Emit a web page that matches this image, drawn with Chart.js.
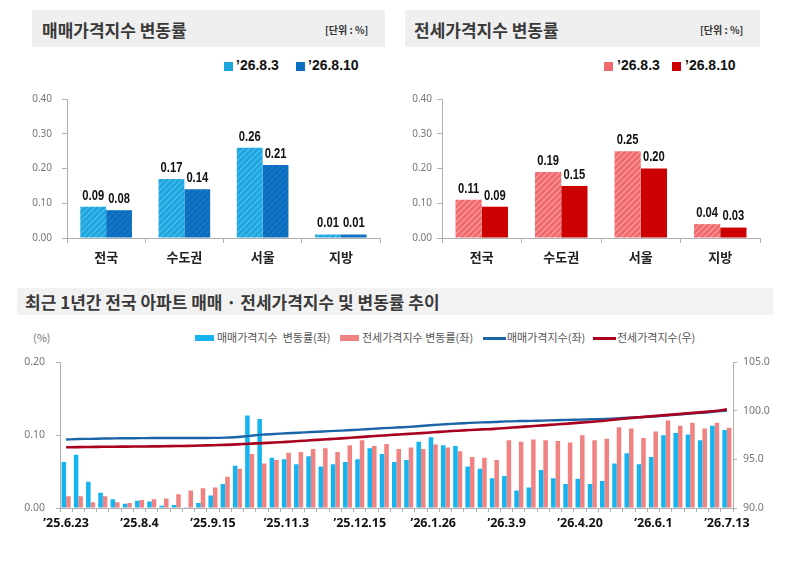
<!DOCTYPE html>
<html>
<head>
<meta charset="utf-8">
<script src="https://cdn.jsdelivr.net/npm/chart.js@4.4.1/dist/chart.umd.min.js"></script>
<style>
  body { margin: 0; width: 798px; height: 561px; background: #fff; position: relative; overflow: hidden;
         font-family: 'Noto Sans CJK KR', 'Noto Sans', sans-serif; }
  .band { position: absolute; background: #efefef; }
  .ttl { position: absolute; font-weight: bold; font-size: 17px; color: #3a3a3a; white-space: nowrap; }
  .unit { position: absolute; font-weight: bold; font-size: 10px; color: #333; white-space: nowrap; }
  .lg { position: absolute; font-weight: bold; font-size: 14px; color: #111; white-space: nowrap;
        font-family: 'Liberation Sans', sans-serif; }
  .sq { position: absolute; width: 9px; height: 9px; }
  .lg2 { position: absolute; font-size: 11px; color: #555; white-space: nowrap; }
  .sw { position: absolute; }
  canvas { position: absolute; }
</style>
</head>
<body>

<div class="band" style="left:32px;top:10px;width:353px;height:37px"></div>
<div class="ttl" style="left:42px;top:17px">매매가격지수 변동률</div>
<div class="unit" style="left:325px;top:22px">[단위 : %]</div>

<div class="band" style="left:405px;top:10px;width:355px;height:37px"></div>
<div class="ttl" style="left:414px;top:17px">전세가격지수 변동률</div>
<div class="unit" style="left:700px;top:22px">[단위 : %]</div>

<div class="sq" style="left:224px;top:62px;background:#1ca6e0"></div>
<div class="lg" style="left:236px;top:57px">’26.8.3</div>
<div class="sq" style="left:296px;top:62px;background:#0b6dbf"></div>
<div class="lg" style="left:308px;top:57px">’26.8.10</div>

<div class="sq" style="left:604px;top:62px;background:#f0696c"></div>
<div class="lg" style="left:617px;top:57px">’26.8.3</div>
<div class="sq" style="left:672px;top:62px;background:#cc0000"></div>
<div class="lg" style="left:685px;top:57px">’26.8.10</div>

<div class="band" style="left:17px;top:288px;width:756px;height:27px;background:#f2f2f2"></div>
<div class="ttl" style="left:25px;top:289px">최근 1년간 전국 아파트 매매 · 전세가격지수 및 변동률 추이</div>

<div class="lg2" style="left:33px;top:329px;color:#777">(%)</div>
<div class="sw" style="left:195px;top:335px;width:19px;height:6px;background:#16b4ee"></div>
<div class="lg2" style="left:217px;top:329px">매매가격지수&nbsp; 변동률(좌)</div>
<div class="sw" style="left:340px;top:335px;width:19px;height:6px;background:#f08282"></div>
<div class="lg2" style="left:362px;top:329px">전세가격지수 변동률(좌)</div>
<div class="sw" style="left:483px;top:337px;width:23px;height:2.5px;background:#1c64a8"></div>
<div class="lg2" style="left:507px;top:329px">매매가격지수(좌)</div>
<div class="sw" style="left:593px;top:337px;width:23px;height:2.5px;background:#a8001e"></div>
<div class="lg2" style="left:617px;top:329px">전세가격지수(우)</div>

<canvas id="saleChart" width="400" height="195" style="left:0;top:80px;width:400px;height:195px"></canvas>
<canvas id="rentChart" width="398" height="195" style="left:400px;top:80px;width:398px;height:195px"></canvas>
<canvas id="trendChart" width="798" height="200" style="left:0;top:345px;width:798px;height:200px"></canvas>

<script>
// top charts
const regions = ["전국", "수도권", "서울", "지방"];
const saleWeek1 = [0.09, 0.17, 0.26, 0.01];   // '26.8.3
const saleWeek2 = [0.08, 0.14, 0.21, 0.01];   // '26.8.10
const rentWeek1 = [0.11, 0.19, 0.25, 0.04];
const rentWeek2 = [0.09, 0.15, 0.20, 0.03];
const weekNames = ["’26.8.3", "’26.8.10"];

// bottom chart (weekly, Chuseok week 10.6 skipped)
const weeks = [
  "’25.6.23", "’25.6.30", "’25.7.7", "’25.7.14", "’25.7.21", "’25.7.28",
  "’25.8.4", "’25.8.11", "’25.8.18", "’25.8.25", "’25.9.1", "’25.9.8",
  "’25.9.15", "’25.9.22", "’25.9.29", "’25.10.13", "’25.10.20", "’25.10.27",
  "’25.11.3", "’25.11.10", "’25.11.17", "’25.11.24", "’25.12.1", "’25.12.8",
  "’25.12.15", "’25.12.22", "’25.12.29", "’26.1.5", "’26.1.12", "’26.1.19",
  "’26.1.26", "’26.2.2", "’26.2.9", "’26.2.16", "’26.2.23", "’26.3.2",
  "’26.3.9", "’26.3.16", "’26.3.23", "’26.3.30", "’26.4.6", "’26.4.13",
  "’26.4.20", "’26.4.27", "’26.5.4", "’26.5.11", "’26.5.18", "’26.5.25",
  "’26.6.1", "’26.6.8", "’26.6.15", "’26.6.22", "’26.6.29", "’26.7.6",
  "’26.7.13"
];
const tickLabels = ["’25.6.23", "’25.8.4", "’25.9.15", "’25.11.3", "’25.12.15",
  "’26.1.26", "’26.3.9", "’26.4.20", "’26.6.1", "’26.7.13"];
const saleRate = [
  0.063, 0.073, 0.036, 0.021, 0.012, 0.006, 0.010, 0.009, 0.003, 0.004, 0.001,
  0.007, 0.017, 0.033, 0.058, 0.127, 0.122, 0.069, 0.067, 0.060, 0.071, 0.057,
  0.060, 0.063, 0.067, 0.082, 0.074, 0.063, 0.066, 0.091, 0.097, 0.086, 0.085,
  0.057, 0.054, 0.041, 0.044, 0.024, 0.028, 0.052, 0.041, 0.033, 0.040, 0.033,
  0.037, 0.061, 0.075, 0.060, 0.070, 0.100, 0.103, 0.101, 0.093, 0.113, 0.107
];
const rentRate = [
  0.016, 0.016, 0.008, 0.016, 0.008, 0.007, 0.011, 0.012, 0.013, 0.019, 0.024,
  0.027, 0.028, 0.043, 0.054, 0.074, 0.061, 0.066, 0.076, 0.077, 0.081, 0.082,
  0.077, 0.086, 0.093, 0.085, 0.088, 0.081, 0.083, 0.081, 0.087, 0.083, 0.078,
  0.070, 0.069, 0.066, 0.093, 0.091, 0.094, 0.093, 0.092, 0.090, 0.100, 0.093,
  0.095, 0.111, 0.109, 0.096, 0.105, 0.120, 0.113, 0.117, 0.109, 0.117, 0.110
];
const saleIndex = [
  97.05, 97.10, 97.12, 97.15, 97.17, 97.18, 97.19, 97.20, 97.20, 97.20, 97.20,
  97.21, 97.22, 97.25, 97.31, 97.43, 97.55, 97.62, 97.69, 97.75, 97.82, 97.88,
  97.94, 98.00, 98.07, 98.15, 98.22, 98.28, 98.35, 98.44, 98.54, 98.62, 98.70,
  98.76, 98.81, 98.86, 98.92, 98.95, 98.97, 99.00, 99.04, 99.07, 99.10, 99.13,
  99.17, 99.23, 99.30, 99.36, 99.42, 99.52, 99.62, 99.72, 99.81, 99.92, 100.04
];
const rentIndex = [
  96.25, 96.27, 96.28, 96.30, 96.31, 96.32, 96.33, 96.34, 96.36, 96.38, 96.40,
  96.43, 96.46, 96.50, 96.55, 96.62, 96.68, 96.74, 96.81, 96.89, 96.97, 97.05,
  97.13, 97.21, 97.30, 97.39, 97.47, 97.55, 97.63, 97.71, 97.80, 97.88, 97.96,
  98.03, 98.09, 98.15, 98.24, 98.33, 98.42, 98.51, 98.60, 98.69, 98.79, 98.88,
  98.99, 99.12, 99.25, 99.36, 99.46, 99.56, 99.66, 99.77, 99.87, 99.98, 100.15
];

function hatch(base, stripe) {
  const c = document.createElement('canvas');
  c.width = 6; c.height = 6;
  const g = c.getContext('2d');
  g.fillStyle = base;
  g.fillRect(0, 0, 6, 6);
  g.strokeStyle = stripe;
  g.lineWidth = 1.3;
  g.beginPath();
  g.moveTo(0, 6); g.lineTo(6, 0);
  g.moveTo(-1, 1); g.lineTo(1, -1);
  g.moveTo(5, 7); g.lineTo(7, 5);
  g.stroke();
  return g.createPattern(c, 'repeat');
}

// prints the value above each bar (squeezed, the original uses a narrow bold face)
const valueLabels = {
  id: 'valueLabels',
  afterDatasetsDraw(chart) {
    const ctx = chart.ctx;
    chart.data.datasets.forEach((ds, i) => {
      chart.getDatasetMeta(i).data.forEach((bar, j) => {
        ctx.save();
        ctx.font = "bold 14px 'Liberation Sans', sans-serif";
        ctx.fillStyle = '#111';
        ctx.textAlign = 'center';
        ctx.textBaseline = 'bottom';
        ctx.translate(bar.x, bar.y - 4);
        ctx.scale(0.8, 1);
        ctx.fillText(ds.data[j].toFixed(2), 0, 0);
        ctx.restore();
      });
    });
  }
};

function regionChart(id, w1, w2, c1, c2, leftW, rightPad, tickPad) {
  return new Chart(document.getElementById(id), {
    type: 'bar',
    data: {
      labels: regions,
      datasets: [
        { label: weekNames[0], data: w1, backgroundColor: c1 },
        { label: weekNames[1], data: w2, backgroundColor: c2 }
      ]
    },
    options: {
      responsive: false,
      animation: false,
      layout: { padding: { top: 19, right: rightPad, left: 0, bottom: 0 } },
      datasets: { bar: { categoryPercentage: 0.66, barPercentage: 1.0 } },
      scales: {
        x: {
          grid: { drawOnChartArea: false, tickLength: 5, color: '#b0b0b0' },
          border: { color: '#b0b0b0' },
          ticks: { color: '#222', padding: 6, font: { family: "'Noto Sans CJK KR'", size: 13, weight: 'bold' } },
          afterFit(s) { s.height = 37; }
        },
        y: {
          min: 0, max: 0.4,
          grid: { drawOnChartArea: false, tickLength: 5, color: '#b0b0b0' },
          border: { color: '#b0b0b0' },
          ticks: { stepSize: 0.1, padding: tickPad, color: '#777',
                   font: { family: "'Noto Sans'", size: 10 },
                   callback: v => v.toFixed(2) },
          afterFit(s) { s.width = leftW; }
        }
      },
      plugins: { legend: { display: false }, tooltip: { enabled: false } }
    },
    plugins: [valueLabels]
  });
}

regionChart('saleChart', saleWeek1, saleWeek2,
  hatch('#1ca6e0', '#4cbbea'), hatch('#0b6dbf', '#1a78c6'), 67, 20, 10);
regionChart('rentChart', rentWeek1, rentWeek2,
  hatch('#f0696c', '#f89a9b'), '#cc0000', 42, 38, 5);

new Chart(document.getElementById('trendChart'), {
  data: {
    labels: weeks,
    datasets: [
      { type: 'line', label: '전세가격지수(우)', data: rentIndex, yAxisID: 'y2', order: 0,
        borderColor: '#a8001e', borderWidth: 2.6, pointRadius: 0, tension: 0.3 },
      { type: 'line', label: '매매가격지수(좌)', data: saleIndex, yAxisID: 'y2', order: 1,
        borderColor: '#1c64a8', borderWidth: 2.4, pointRadius: 0, tension: 0.3 },
      { type: 'bar', label: '매매가격지수 변동률(좌)', data: saleRate, yAxisID: 'y', order: 2,
        backgroundColor: '#16b4ee', categoryPercentage: 0.74, barPercentage: 1.0 },
      { type: 'bar', label: '전세가격지수 변동률(좌)', data: rentRate, yAxisID: 'y', order: 2,
        backgroundColor: '#f08282', categoryPercentage: 0.74, barPercentage: 1.0 }
    ]
  },
  options: {
    responsive: false,
    animation: false,
    layout: { padding: { top: 10, right: 0, left: 0, bottom: 0 } },
    scales: {
      x: {
        grid: { drawOnChartArea: false, tickLength: 4, color: '#b0b0b0', offset: true },
        border: { color: '#b0b0b0' },
        ticks: {
          autoSkip: false, maxRotation: 0, padding: 4, color: '#111',
          font: { family: "'Noto Sans'", size: 12.5, weight: 'bold' },
          callback(v) {
            const lab = this.getLabelForValue(v);
            return tickLabels.includes(lab) ? lab : '';
          }
        },
        afterFit(s) { s.height = 37; }
      },
      y: {
        position: 'left', min: 0, max: 0.2,
        grid: { drawOnChartArea: false, tickLength: 4, color: '#b0b0b0' },
        border: { color: '#b0b0b0' },
        ticks: { stepSize: 0.1, padding: 11, color: '#777',
                 font: { family: "'Noto Sans'", size: 10.5 },
                 callback: v => v.toFixed(2) },
        afterFit(s) { s.width = 60; }
      },
      y2: {
        position: 'right', min: 90, max: 105,
        grid: { drawOnChartArea: false, tickLength: 4, color: '#b0b0b0' },
        border: { color: '#b0b0b0' },
        ticks: { stepSize: 5, padding: 6, color: '#777',
                 font: { family: "'Noto Sans'", size: 10.5 },
                 callback: v => v.toFixed(1) },
        afterFit(s) { s.width = 65; }
      }
    },
    plugins: { legend: { display: false }, tooltip: { enabled: false } }
  }
});
</script>
</body>
</html>
